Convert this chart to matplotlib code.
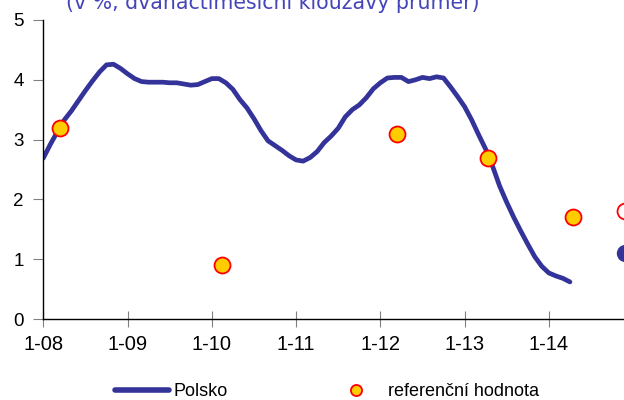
import numpy as np
import matplotlib.pyplot as plt
from matplotlib.lines import Line2D

# months since 1-08, 12-month moving average inflation, Poland
months = np.arange(0, 76)
polsko = [2.69, 2.92, 3.13, 3.33, 3.48, 3.65, 3.82, 3.98, 4.13, 4.25,
          4.26, 4.19, 4.10, 4.02, 3.97, 3.96, 3.96, 3.96, 3.95, 3.95,
          3.93, 3.91, 3.92, 3.97, 4.02, 4.02, 3.95, 3.84, 3.67, 3.53,
          3.35, 3.15, 2.98, 2.90, 2.82, 2.73, 2.66, 2.64, 2.70, 2.80,
          2.95, 3.06, 3.19, 3.38, 3.50, 3.58, 3.70, 3.85, 3.95, 4.03,
          4.04, 4.04, 3.97, 4.00, 4.04, 4.02, 4.05, 4.03, 3.88, 3.72,
          3.55, 3.33, 3.08, 2.84, 2.55, 2.22, 1.95, 1.70, 1.47, 1.25,
          1.04, 0.88, 0.77, 0.72, 0.68, 0.62]

ref_months = [2.4, 25.4, 50.4, 63.4, 75.4]
ref_values = [3.2, 0.9, 3.1, 2.7, 1.7]

# forecast points at the cut-off right edge
fc_month = [82.9]
fc_ref = [1.8]
fc_polsko = [1.1]

xtick_pos = [0, 12, 24, 36, 48, 60, 72]
xtick_labels = ['1-08', '1-09', '1-10', '1-11', '1-12', '1-13', '1-14']

navy = '#333399'
gold = '#FFCC00'

plt.rcParams['font.family'] = ['Liberation Sans', 'DejaVu Sans']

fig = plt.figure(figsize=(6.24, 4.0), dpi=100)
ax = fig.add_axes([43.3 / 624, 81 / 400, 1 - 43.3 / 624, 299 / 400])

ax.plot(months, polsko, color=navy, lw=3.4, solid_capstyle='round', zorder=2)
ax.plot(ref_months, ref_values, ls='none', marker='o', ms=11.5,
        mfc=gold, mec='#FF0000', mew=1.3, zorder=3)
ax.plot(fc_month, fc_ref, ls='none', marker='o', ms=11.5,
        mfc='white', mec='#FF0000', mew=1.3, zorder=3, clip_on=False)
ax.plot(fc_month, fc_polsko, ls='none', marker='o', ms=11.5,
        mfc=navy, mec=navy, zorder=3, clip_on=False)

ax.set_xlim(0, 82.7)
ax.set_ylim(0, 5)
ax.set_xticks(xtick_pos)
ax.set_xticklabels(xtick_labels, fontsize=14.5)
ax.set_yticks(range(6))
ax.set_yticklabels([str(v) for v in range(6)], fontsize=13.5, ha='left')

for side in ['top', 'right']:
    ax.spines[side].set_visible(False)
for side in ['left', 'bottom']:
    ax.spines[side].set_linewidth(1.0)
    ax.spines[side].set_color('black')

ax.tick_params(axis='x', direction='inout', length=11, width=0.8,
               color='#808080', pad=6)
ax.tick_params(axis='y', direction='out', length=7, width=0.8,
               color='#808080', pad=14.5)

fig.text(273 / 624, 1 - 9 / 400, '(v %, dvanáctiměsíční klouzavý průměr)',
         ha='center', va='baseline', fontsize=14.8, color='#4444BB',
         family='DejaVu Sans')

handles = [
    Line2D([], [], color=navy, lw=4, solid_capstyle='round'),
    Line2D([], [], ls='none', marker='o', ms=8, mfc=gold, mec='#FF0000', mew=1.3),
]
fig.legend(handles, ['Polsko', 'referenční hodnota'], ncol=2, frameon=False,
           loc='center left', bbox_to_anchor=(115 / 624, 1 - 392 / 400),
           fontsize=13, handlelength=3.0, handletextpad=0.25,
           columnspacing=5.6, borderpad=0, borderaxespad=0)

fig.savefig('out.png', dpi=100)
